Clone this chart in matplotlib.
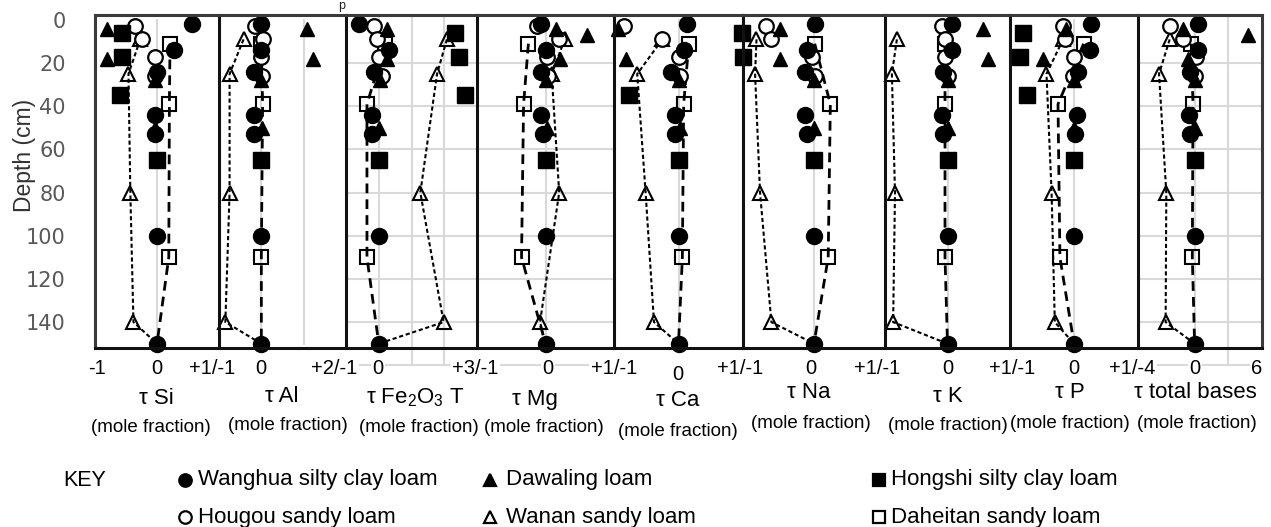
import numpy as np
import matplotlib
matplotlib.use("Agg")
import matplotlib.pyplot as plt

plt.rcParams['font.family'] = ['Liberation Sans', 'DejaVu Sans']
plt.rcParams['mathtext.fontset'] = 'custom'
plt.rcParams['mathtext.rm'] = 'Liberation Sans'

W, H, DPI = 1271, 527, 100
nan = np.nan

# depth of each horizon (cm)
wanghua_depth = [2, 14, 24, 44, 53, 100, 150]
dawaling_depth = [4, 7, 18, 28, 50]
hongshi_depth = [6, 17, 35, 65]
hougou_depth = [3, 9, 17, 26]
wanan_depth = [9, 25, 80, 140]
daheitan_depth = [11, 39, 110]

panel_names = ['Si', 'Al', 'Fe', 'Mg', 'Ca', 'Na', 'K', 'P', 'total']
panel_titles = ['τ Si', 'τ Al', r'τ Fe$_2$O$_3$ T', 'τ Mg', 'τ Ca', 'τ Na',
                'τ K', 'τ P', 'τ total bases']
panel_xlims = [(-1, 1), (-1, 2), (-1, 3), (-1, 1), (-1, 1), (-1, 1),
               (-1, 1), (-1, 1), (-4.2, 5)]

# tau values (mole fraction), one row per panel in panel_names order
wanghua_tau = [
    [0.56, 0.27, 0.0, -0.03, -0.03, 0.0, 0.0],
    [0.0, 0.0, -0.18, -0.18, -0.18, 0.0, 0.0],
    [-0.59, 0.3, -0.16, -0.21, -0.21, 0.0, 0.0],
    [-0.06, 0.0, -0.06, -0.06, -0.03, 0.0, 0.0],
    [0.13, 0.08, -0.12, -0.05, -0.05, 0.0, 0.0],
    [0.01, -0.1, -0.13, -0.13, -0.1, 0.0, 0.0],
    [0.07, 0.07, -0.07, -0.09, -0.07, 0.0, 0.0],
    [0.27, 0.25, 0.07, 0.05, 0.02, 0.0, 0.0],
    [0.25, 0.25, -0.37, -0.42, -0.37, 0.0, 0.0],
]
dawaling_tau = [
    [-0.81, nan, -0.81, -0.03, -0.03],
    [1.09, nan, 1.22, 0.0, 0.02],
    [0.25, nan, 0.25, 0.05, 0.0],
    [0.16, 0.6, 0.21, 0.0, 0.02],
    [-0.94, nan, -0.82, 0.0, 0.02],
    [-0.48, nan, -0.48, 0.0, 0.0],
    [0.57, nan, 0.64, 0.0, 0.0],
    [-0.12, nan, -0.48, 0.0, 0.0],
    [-0.87, 3.95, -0.5, 0.0, 0.0],
]
hongshi_tau = [
    [-0.56, -0.56, -0.59, 0.0],
    [nan, nan, nan, 0.0],
    [2.34, 2.44, 2.64, 0.0],
    [nan, nan, nan, 0.0],
    [nan, nan, -0.76, 0.0],
    [-1.02, -1.0, nan, 0.0],
    [nan, nan, nan, 0.0],
    [-0.79, -0.84, -0.74, 0.0],
    [nan, nan, nan, 0.0],
]
hougou_tau = [
    [-0.35, -0.24, -0.03, -0.03],
    [-0.14, 0.05, 0.0, 0.02],
    [-0.16, -0.06, 0.0, 0.1],
    [-0.13, 0.19, 0.02, 0.04],
    [-0.84, -0.25, 0.0, 0.02],
    [-0.67, -0.6, -0.03, 0.01],
    [-0.09, -0.04, -0.04, 0.01],
    [-0.17, -0.14, 0.0, -0.02],
    [-1.85, -0.87, 0.12, 0.0],
]
wanan_tau = [
    [-0.27, -0.46, -0.43, -0.38],
    [-0.42, -0.75, -0.75, -0.85],
    [2.08, 1.78, 1.27, 1.98],
    [0.28, 0.09, 0.2, -0.08],
    [-0.25, -0.64, -0.51, -0.38],
    [-0.81, -0.83, -0.76, -0.6],
    [-0.81, -0.89, -0.84, -0.87],
    [-0.17, -0.43, -0.35, -0.3],
    [-1.85, -2.64, -2.1, -2.15],
]
daheitan_tau = [
    [0.21, 0.2, 0.19],
    [0.0, 0.03, 0.0],
    [0.2, -0.36, -0.36],
    [-0.25, -0.32, -0.35],
    [0.16, 0.08, 0.06],
    [0.01, 0.23, 0.2],
    [-0.04, -0.04, -0.04],
    [0.15, -0.25, -0.22],
    [-0.25, -0.12, -0.17],
]

# bottom axis labels
bottom_labels = ['-1', '0', '+1/-1', '0', '+2/-1', '0', '+3/-1', '0', '+1/-1',
                 '0', '+1/-1', '0', '+1/-1', '0', '+1/-1', '0', '+1/-4', '0', '6']
depth_ticks = [0, 20, 40, 60, 80, 100, 120, 140]

legend_names = ['Wanghua silty clay loam', 'Dawaling loam', 'Hongshi silty clay loam',
                'Hougou sandy loam', 'Wanan sandy loam', 'Daheitan sandy loam']

# ---- layout (pixels) ----
edges = [95, 219, 346, 477, 614, 743, 885, 1010, 1138, 1262]
top, bot = 15, 348
label_x = [97, 157, 212, 261, 334, 378, 475, 548, 614, 678, 740, 811, 877,
           948, 1012, 1074, 1132, 1195, 1257]
title_xy = [(156, 398), (282, 397), (415, 398), (535, 400), (678, 401),
            (809, 392), (948, 397), (1070, 392), (1195, 393)]
mole_xy = [(151, 428), (288, 425), (419, 427), (544, 428), (678, 431),
           (811, 423), (948, 425), (1070, 423), (1197, 423)]

GRID = '#d9d9d9'
FRAME = '#3a3a3a'

fig = plt.figure(figsize=(W / DPI, H / DPI), dpi=DPI)

axes = []
for i, name in enumerate(panel_names):
    x0, x1 = edges[i], edges[i + 1]
    ax = fig.add_axes([x0 / W, 1 - bot / H, (x1 - x0) / W, (bot - top) / H])
    ax.set_xlim(*panel_xlims[i])
    ax.set_ylim(152, -2.3)
    ax.set_xticks([])
    ax.set_yticks([])
    ax.patch.set_alpha(0)
    for s in ['top', 'bottom']:
        ax.spines[s].set_color(FRAME)
        ax.spines[s].set_linewidth(2.2)
    ax.spines['bottom'].set_color('#111111')
    ax.spines['left'].set_color('#111111' if i else FRAME)
    ax.spines['left'].set_linewidth(2.2)
    ax.spines['right'].set_visible(i == len(panel_names) - 1)
    ax.spines['right'].set_color(FRAME)
    ax.spines['right'].set_linewidth(2.2)
    for sp in ax.spines.values():
        sp.set_zorder(6)
    axes.append(ax)

# grid lines
vgrid = {'Si': [0], 'Al': [0, 1], 'Fe': [0, 1, 2], 'Mg': [0], 'Ca': [0],
         'Na': [0], 'K': [0], 'P': [0], 'total': [0, 2.5]}
hgrid_panels = ['Fe', 'Mg', 'total']
for ax, name in zip(axes, panel_names):
    ext = name in ('Fe', 'total')
    for g in vgrid[name]:
        ax.plot([g, g], [0 if not ext else -2.3, 160 if (ext and g != 0) else 150],
                color=GRID, lw=1.5, zorder=0, clip_on=not ext)
    if name in hgrid_panels:
        for d in range(20, 141, 20):
            ax.axhline(d, color=GRID, lw=1.5, zorder=0)
        ax.plot(ax.get_xlim(), [160, 160], color=GRID, lw=1.5, zorder=0, clip_on=False)

# data
for i, ax in enumerate(axes):
    parent_x, parent_d = wanghua_tau[i][-1], wanghua_depth[-1]
    ax.plot(wanan_tau[i] + [parent_x], wanan_depth + [parent_d], color='black',
            lw=1.5, dashes=(2.0, 1.3), zorder=2, clip_on=False)
    ax.plot(wanan_tau[i], wanan_depth, ls='none', marker='^', ms=10, mfc='none',
            mec='black', mew=1.5, zorder=2, clip_on=False)
    ax.plot(daheitan_tau[i] + [parent_x], daheitan_depth + [parent_d], color='black',
            lw=2.0, dashes=(3.5, 2.2), zorder=2, clip_on=False)
    ax.plot(daheitan_tau[i], daheitan_depth, ls='none', marker='s', ms=10, mfc='none',
            mec='black', mew=1.5, zorder=2, clip_on=False)
    ax.plot(hougou_tau[i], hougou_depth, ls='none', marker='o', ms=10.5, mfc='white',
            mec='black', mew=1.6, zorder=3, clip_on=False)
    ax.plot(hongshi_tau[i], hongshi_depth, ls='none', marker='s', ms=11, color='black',
            zorder=4, clip_on=False)
    ax.plot(dawaling_tau[i], dawaling_depth, ls='none', marker='^', ms=10.5, color='black',
            zorder=4, clip_on=False)
    ax.plot(wanghua_tau[i], wanghua_depth, ls='none', marker='o', ms=11.5, color='black',
            zorder=5, clip_on=False)

# depth axis
a0 = axes[0]
a0.set_yticks(depth_ticks)
a0.tick_params(axis='y', length=0, pad=21, labelsize=16, labelcolor='#595959')
a0.set_yticklabels([str(t) for t in depth_ticks], fontfamily='DejaVu Sans', fontsize=15)

# overlay for text in pixel coordinates
ov = fig.add_axes([0, 0, 1, 1])
ov.set_xlim(0, W)
ov.set_ylim(H, 0)
ov.axis('off')

ov.text(25, 155, 'Depth (cm)', rotation=90, ha='center', va='center',
        fontsize=16.5, color='#333333')
ov.text(338, 0.5, 'p', ha='left', va='top', fontsize=9, color='#222222')

for j, (lx, lab) in enumerate(zip(label_x, bottom_labels)):
    ly = 375 if j == 9 else 368
    ov.text(lx, ly, lab, ha='center', va='center', fontsize=14.5, color='black',
            bbox=dict(fc='white', ec='none', pad=1))
for (tx, ty), t in zip(title_xy, panel_titles):
    ov.text(tx, ty, t, ha='center', va='center', fontsize=16)
for (mx, my) in mole_xy:
    ov.text(mx, my, '(mole fraction)', ha='center', va='center', fontsize=13.5)

# key
ov.text(63, 480, 'KEY', ha='left', va='center', fontsize=15.5)
key_markers = [('o', 'black'), ('^', 'black'), ('s', 'black'),
               ('o', 'white'), ('^', 'white'), ('s', 'white')]
key_mx = [185, 490, 879, 185, 490, 879]
key_tx = [198, 506, 891, 198, 506, 891]
key_y = [480, 480, 480, 517, 517, 517]
for (m, fc), mx, tx, ky, name in zip(key_markers, key_mx, key_tx, key_y, legend_names):
    ov.plot([mx], [ky], marker=m, ms=9 if m == 'o' else 8.5, mfc=fc, mec='black',
            mew=1.6, ls='none')
    ov.text(tx, ky, name, ha='left', va='center', fontsize=16)

fig.savefig('out.png', dpi=DPI)
